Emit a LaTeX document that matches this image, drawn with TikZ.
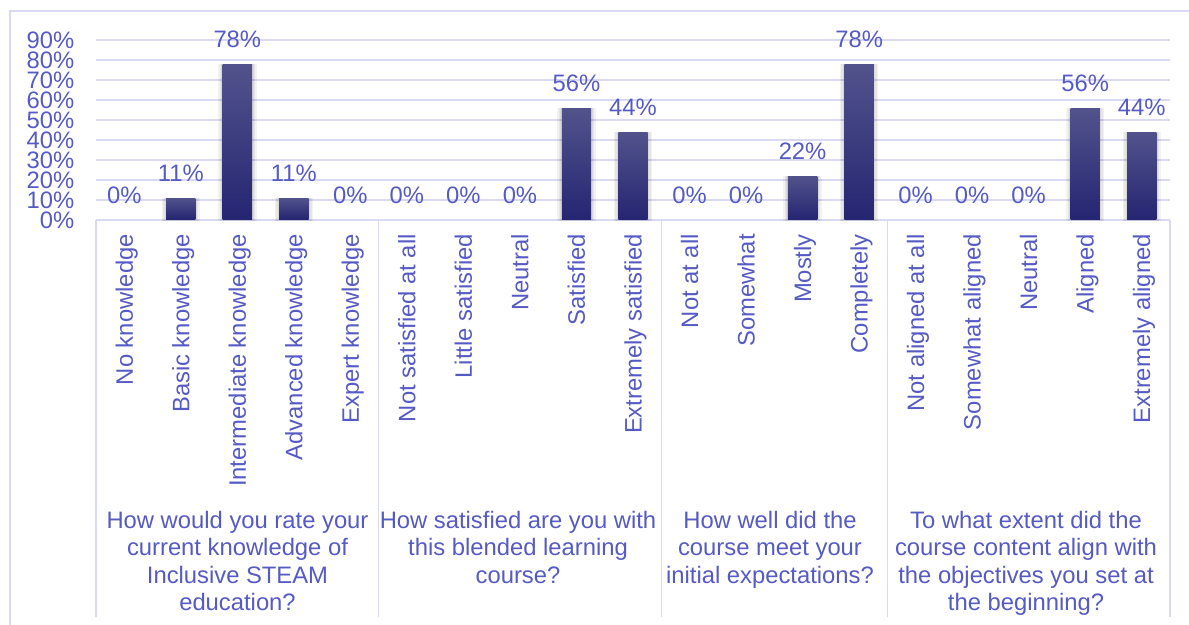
\documentclass[tikz,border=0pt]{standalone}
\usepackage{fontspec}
\setmainfont{Liberation Sans}
\definecolor{txt}{RGB}{86,90,196}
\definecolor{gridc}{RGB}{217,217,242}
\definecolor{bartop}{RGB}{82,83,140}
\definecolor{barmid}{RGB}{44,44,122}
\definecolor{barbot}{RGB}{37,37,114}
\begin{document}
\begin{tikzpicture}[x=1pt,y=-1pt,
  lbl/.style={font=\fontsize{23.8}{27.3}\selectfont, text=txt, inner sep=0pt},
  gridline/.style={draw=gridc, line width=1.6pt},
  grouplbl/.style={lbl, align=center, anchor=north},
  catlbl/.style={lbl, rotate=90, anchor=base east},
]
\useasboundingbox (0,0) rectangle (1189,624);
\clip (0,0) rectangle (1189,624);
\fill[white] (0,0) rectangle (1189,624);
\draw[draw=gridc, line width=1.5pt] (10,11) rectangle (1210,650);
% horizontal gridlines
\foreach \k in {1,...,9} \draw[gridline] (96,220-20*\k) -- (1170,220-20*\k);
% y axis labels
\foreach \k/\t in {0/0,1/10,2/20,3/30,4/40,5/50,6/60,7/70,8/80,9/90}
  \node[lbl, anchor=east] (y\k) at (74.5,220-20*\k) {\t\%};
% category axis frame
\draw[gridline] (96,220) -- (1170,220);
\foreach \x in {96,378.6,661.3,887.4,1170} \draw[gridline] (\x,220) -- (\x,617);
% bars, values and category labels
\foreach \i/\v/\c in {0/0/No knowledge,1/11/Basic knowledge,2/78/Intermediate knowledge,3/11/Advanced knowledge,4/0/Expert knowledge,
  5/0/Not satisfied at all,6/0/Little satisfied,7/0/Neutral,8/56/Satisfied,9/44/Extremely satisfied,
  10/0/Not at all,11/0/Somewhat,12/22/Mostly,13/78/Completely,
  14/0/Not aligned at all,15/0/Somewhat aligned,16/0/Neutral,17/56/Aligned,18/44/Extremely aligned}{
  \pgfmathsetmacro\cx{96+56.526*(\i+0.5)}
  \pgfmathsetmacro\bt{220-2*\v}
  \ifnum\v>0
    \foreach \s in {1.5,3,4.5}
      \fill[black, opacity=0.05] (\cx-14.7-\s,\bt-0.5) rectangle (\cx+14.7+\s,219.5+\s*0.4);
    \shade[top color=bartop, middle color=barmid, bottom color=barbot] (\cx-14.7,\bt) rectangle (\cx+14.7,219);
  \fi
  \node[lbl, anchor=base] (v\i) at (\cx,\bt-17) {\v\%};
  \node[catlbl] (c\i) at (\cx+8.5,234) {\c};
}
% group labels
\node[grouplbl] (g1) at (237.5,511) {How would you rate your\\current knowledge of\\Inclusive STEAM\\education?};
\node[grouplbl] (g2) at (518,511) {How satisfied are you with\\this blended learning\\course?};
\node[grouplbl] (g3) at (770,511) {How well did the\\course meet your\\initial expectations?};
\node[grouplbl] (g4) at (1026,511) {To what extent did the\\course content align with\\the objectives you set at\\the beginning?};
\end{tikzpicture}
\end{document}
